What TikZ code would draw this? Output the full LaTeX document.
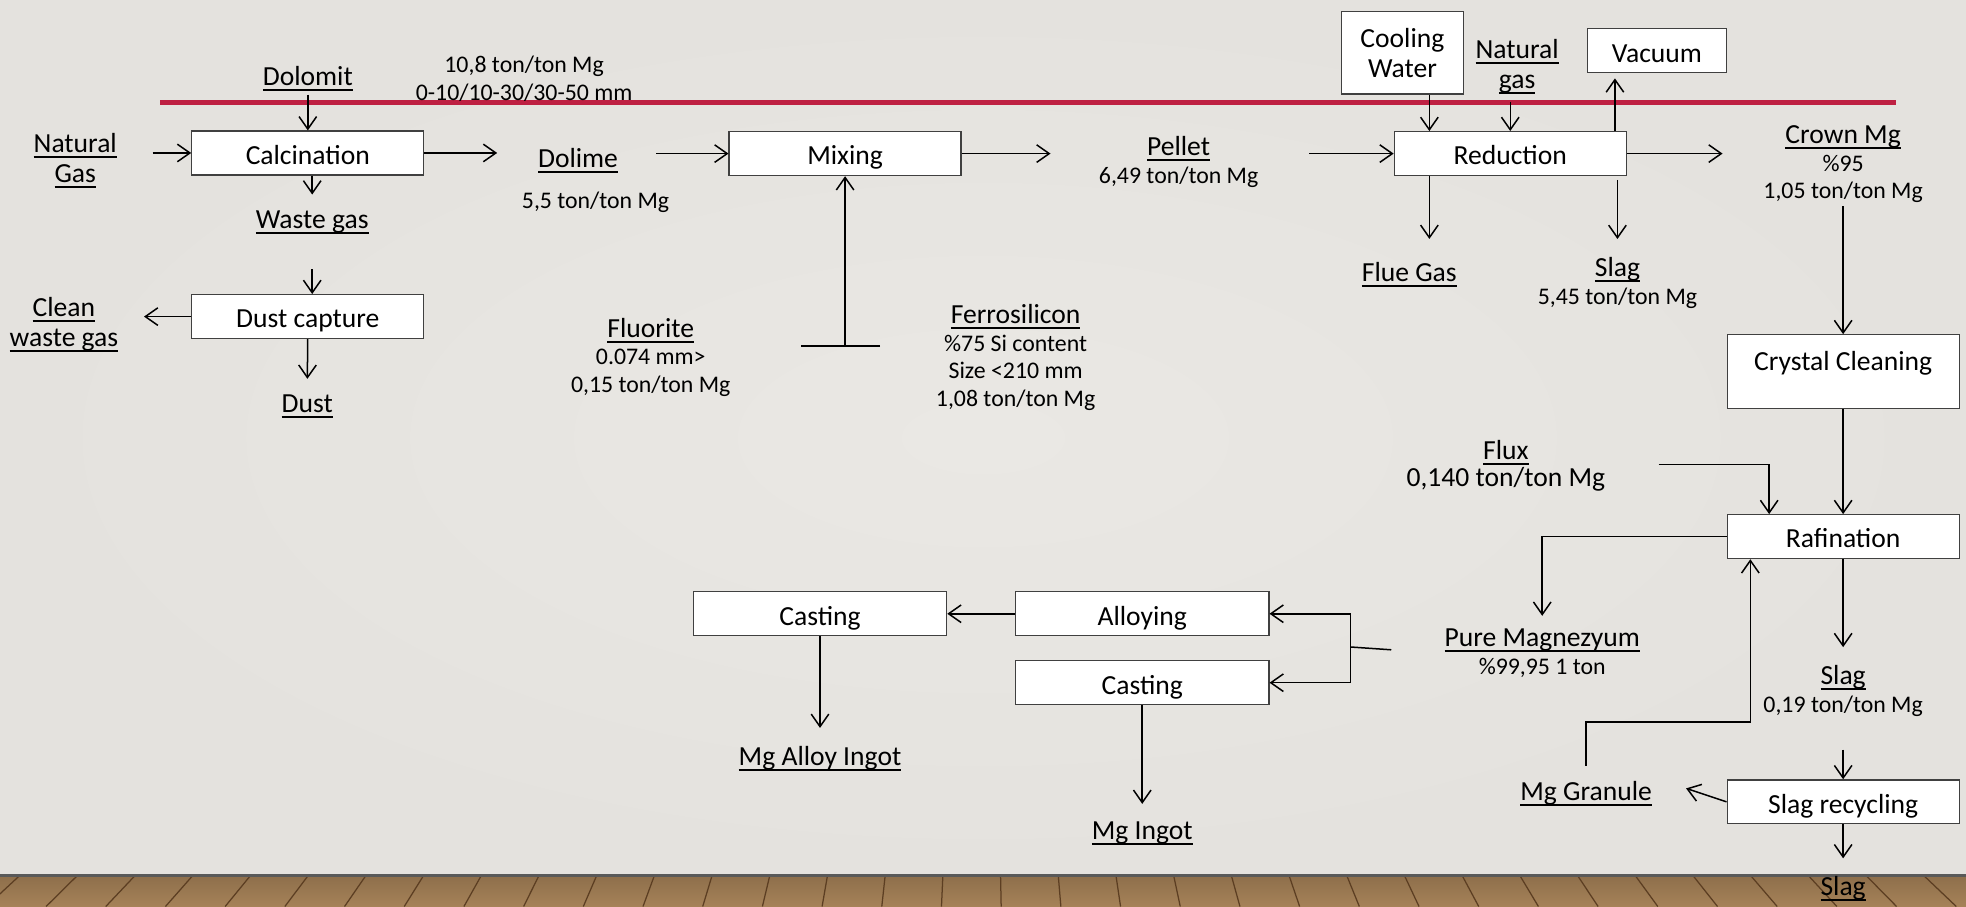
\documentclass[tikz,border=0pt]{standalone}
\usepackage{fontspec}
\setmainfont{Carlito}
\usepackage{tikz}
\usetikzlibrary{arrows.meta}
\definecolor{slide}{RGB}{228,226,222}
\definecolor{slidelight}{RGB}{234,232,228}
\definecolor{wood}{RGB}{166,130,88}
\definecolor{plankline}{RGB}{92,62,34}
\definecolor{crimson}{RGB}{190,32,66}
\newcommand{\bigtxt}{\fontsize{11}{12}\selectfont}
\newcommand{\smalltxt}{\fontsize{9.5}{11}\selectfont}
\newcommand{\uln}[1]{\setbox0\hbox{#1}\leavevmode\rlap{\rule[-2.2pt]{\wd0}{0.8pt}}\box0}
\tikzset{>/.tip={Straight Barb[length=5pt,width=7pt]},
  box/.style={draw=black!75, fill=white, line width=0.5pt, minimum width=92.5pt,
    minimum height=17.5pt, inner sep=1pt, text height=9pt, text depth=0pt, font=\bigtxt},
  wbox/.style={box, minimum width=101pt},
  lbl/.style={inner sep=1pt, align=center, font=\bigtxt},
  qty/.style={inner sep=1pt, align=center, font=\smalltxt}}

\begin{document}
\begin{tikzpicture}[x=0.5pt, y=-0.5pt, line width=0.6pt]
\useasboundingbox (0,0) rectangle (1568,723);
\shade[inner color=slidelight, outer color=slide] (0,0) rectangle (1568,698);
\shade[top color=wood!85!black, bottom color=wood] (0,698) rectangle (1568,723);
\foreach \x in {-30,16,...,1620}
  \draw[plankline, line width=0.5pt] (\x,698) -- ({\x+(\x-784)*0.035},723);
\draw[black!65, line width=1.2pt] (0,698) -- (1568,698);
\draw[crimson, line width=2pt] (128,82) -- (1512,82);
% boxes
\node[box] (calc) at (245.5,122) {Calcination};
\node[box] (dust) at (245.5,252.5) {Dust capture};
\node[box] (mix) at (674,122.5) {Mixing};
\node[box] (red) at (1204.5,122.5) {Reduction};
\node[box, minimum width=48.5pt, minimum height=33pt, align=center, text height=, text depth=] (cool) at (1118.5,42) {Cooling\\Water};
\node[box, minimum width=55.5pt] (vac) at (1321.5,40.5) {Vacuum};
\node[box, minimum height=29.5pt, text height=8.5pt, text depth=9.3pt] (cryst) at (1470,296.5) {Crystal Cleaning};
\node[box] (raf) at (1470,428) {Rafination};
\node[box] (slagrec) at (1470,639.5) {Slag recycling};
\node[wbox] (alloy) at (911,489.5) {Alloying};
\node[wbox] (cast2) at (911,544.5) {Casting};
\node[wbox] (cast1) at (654,489.5) {Casting};
% labels
\node[lbl] (dolomit) at (245.5,63) {\uln{Dolomit}};
\node[qty] (dolomitqty) at (418,63) {10,8 ton/ton Mg\\0-10/10-30/30-50 mm};
\node[lbl] (natgas) at (60,128) {\uln{Natural}\\\uln{Gas}};
\node[lbl] (dolime) at (461,128) {\uln{Dolime}};
\node[qty] (dolimeqty) at (475,161) {5,5 ton/ton Mg};
\node[lbl] (waste) at (249,177) {\uln{Waste gas}};
\node[lbl] (clean) at (51,259) {\uln{Clean}\\\uln{waste gas}};
\node[lbl] (dustout) at (245,324) {\uln{Dust}};
\node[qty] (pellet) at (940,129) {{\bigtxt\uln{Pellet}}\\6,49 ton/ton Mg};
\node[qty] (fluorite) at (519,285) {{\bigtxt\uln{Fluorite}}\\0.074 mm>\\0,15 ton/ton Mg};
\node[qty] (ferro) at (810,285) {{\bigtxt\uln{Ferrosilicon}}\\\%75 Si content\\Size <210 mm\\1,08 ton/ton Mg};
\node[lbl] (natgas2) at (1210,53) {\uln{Natural}\\\uln{gas}};
\node[qty] (crown) at (1470,131) {{\bigtxt\uln{Crown Mg}}\\\%95\\1,05 ton/ton Mg};
\node[lbl] (flue) at (1124,219) {\uln{Flue Gas}};
\node[qty] (slag) at (1290,225.5) {{\bigtxt\uln{Slag}}\\5,45 ton/ton Mg};
\node[qty] (flux) at (1201,371.5) {{\bigtxt\uln{Flux}}\\{\bigtxt 0,140 ton/ton Mg}};
\node[qty] (pure) at (1230,521) {{\bigtxt\uln{Pure Magnezyum}}\\\%99,95 1 ton};
\node[qty] (slagb) at (1470,551) {{\bigtxt\uln{Slag}}\\0,19 ton/ton Mg};
\node[lbl] (granule) at (1265,633) {\uln{Mg Granule}};
\node[lbl] (slagc) at (1470,709) {\uln{Slag}};
\node[lbl] (alloyingot) at (654,605) {\uln{Mg Alloy Ingot}};
\node[lbl] (ingot) at (911,665) {\uln{Mg Ingot}};
\coordinate (feed) at (674,276);
\coordinate (split) at (1077,516);
\coordinate (back) at (1396,576);
% first line
\draw[->] (dolomit) -- (calc);
\draw[->, shorten <=13pt] (natgas.east |- calc) -- (calc.west);
\draw[->, shorten >=15pt] (calc.east) -- (calc.east -| dolime.west);
\draw[->, shorten >=5pt] (calc.south -| waste) -- (waste.north);
\draw[->, shorten <=13pt] (waste.south) -- (waste.south |- dust.north);
\draw[->, shorten >=9pt] (dust.west) -- (dust.west -| clean.east);
\draw[->, shorten >=5pt] (dust) -- (dustout);
\draw[->, shorten <=14pt] (dolime.east |- mix) -- (mix.west);
\draw[->, shorten >=18pt] (mix.east) -- (mix.east -| pellet.west);
\draw[->, shorten <=19pt] (pellet.east |- red) -- (red.west);
\draw[shorten <=27pt] (fluorite.east |- feed) -- (feed);
\draw[shorten <=21pt] (ferro.west |- feed) -- (feed);
\draw[->] (feed) -- (mix.south);
% reduction
\draw[->] ([xshift=10.75pt]cool.south) -- ([xshift=10.75pt]cool.south |- red.north);
\draw[->, shorten <=2pt] (natgas2.south -| red.north) -- (red.north);
\draw[->, shorten >=2pt] ([xshift=-16.75pt]vac.south |- red.north) -- ([xshift=-16.75pt]vac.south);
\draw[->, shorten >=15pt] (red.east) -- (red.east -| crown.west);
\draw[->, shorten >=8pt] ([xshift=-32.25pt]red.south) -- ([xshift=-32.25pt]red.south |- flue.north);
\draw[->, shorten <=1.5pt, shorten >=6pt] (red.south -| slag) -- (slag.north);
\draw[->] (crown) -- (cryst);
% refining
\draw[->] (cryst) -- (raf);
\draw[->] ([shift={(20pt,0.5pt)}]flux.east) -| ([xshift=-29.5pt]raf.north);
\draw[->, shorten >=4pt] (raf.west) -| (pure.north);
\draw[->, shorten >=6pt] (raf) -- (slagb);
\draw[->, shorten <=12pt] (slagb) -- (slagrec);
\draw[->, shorten >=13pt] (slagrec.west) -- (granule.north east);
\draw[->, shorten <=5pt] (granule.north) |- (back) -- (back |- raf.south);
\draw[->, shorten >=6pt] (slagrec) -- (slagc);
% casting
\draw[shorten <=20pt] (pure.west) -- (split);
\draw[->] (split) |- (alloy.east);
\draw[->] (split) |- (cast2.east);
\draw[->] (alloy) -- (cast1);
\draw[->, shorten >=6pt] (cast1) -- (alloyingot);
\draw[->, shorten >=6pt] (cast2) -- (ingot);
\end{tikzpicture}
\end{document}
